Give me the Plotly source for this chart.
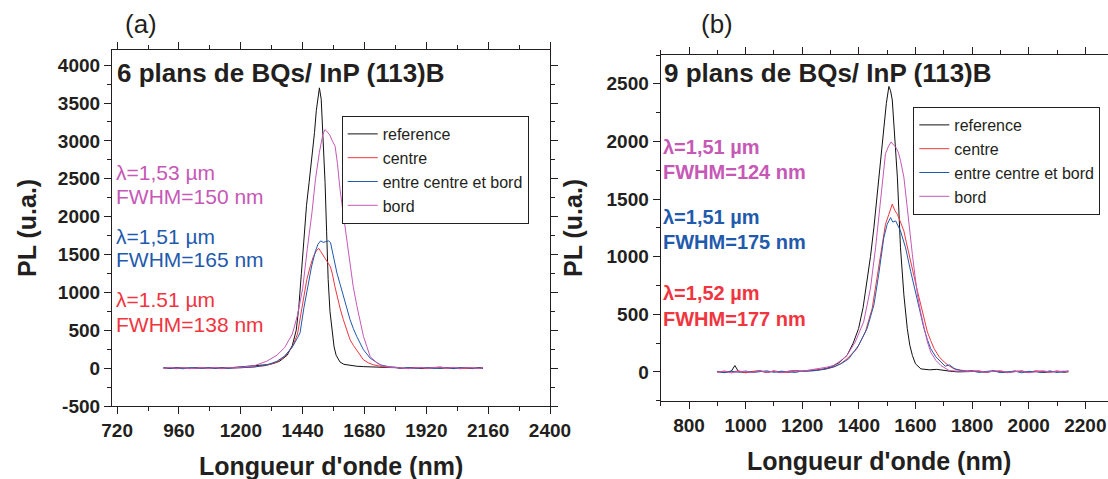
import plotly.graph_objects as go

# ---------------- data ----------------
SERIES_NAMES = ["reference", "centre", "entre centre et bord", "bord"]

# Panel (a): 6 plans de BQs / InP (113)B
a_ref_x = [900, 925, 950, 975, 1000, 1025, 1050, 1075, 1100, 1125, 1150, 1175,
           1200, 1225, 1250, 1275, 1300, 1325, 1350, 1380, 1400, 1415, 1425, 1435, 1444, 1455,
           1465, 1472, 1480, 1486, 1493, 1500, 1505, 1512, 1520, 1527, 1533, 1539, 1546, 1554,
           1562, 1570, 1585, 1600, 1625, 1650, 1675, 1700, 1725, 1750, 1775,
           1800, 1825, 1850, 1875, 1900, 1925, 1950, 1975, 2000, 2025, 2050, 2075, 2100, 2125, 2140]
a_ref_y = [4, -6, 9, 1, -5, 7, -3, 5, -1, 8, 2, 10,
           15, 20, 28, 35, 45, 60, 90, 170, 300, 500, 800, 1250, 1700, 2150,
           2450, 2665, 2900, 3110, 3400, 3620, 3700, 3550, 3000, 2450, 1800, 1170, 750, 470,
           280, 170, 80, 50, 35, 25, 20, 15, 10, 5, 8,
           6, -4, 3, 8, -6, 2, 5, -3, 7, -5, 4, 1, -7, 6, 2]

a_ctr_x = [900, 925, 950, 975, 1000, 1025, 1050, 1075, 1100, 1125, 1150, 1175,
           1200, 1250, 1300, 1340, 1370, 1400, 1420, 1437, 1456, 1470, 1482, 1495, 1503, 1510,
           1520, 1530, 1540, 1547, 1555, 1565, 1573, 1586, 1598, 1611, 1624, 1637, 1650, 1663,
           1676, 1695, 1714, 1750, 1775,
           1800, 1825, 1850, 1875, 1900, 1925, 1950, 1975, 2000, 2025, 2050, 2075, 2100, 2125, 2140]
a_ctr_y = [-3, 6, -8, 4, 0, -6, 9, -2, 5, -7, 3, 1,
           5, 15, 35, 80, 150, 280, 450, 790, 1168, 1350, 1476, 1560, 1580, 1540,
           1480, 1420, 1380, 1344, 1250, 1080, 947, 780, 639, 500, 374, 300, 242, 170,
           110, 70, 44, 20, 10,
           10, 3, -6, 8, 2, -5, 9, 12, -4, 6, -8, 3, 5, -2, 4]

a_mid_x = [900, 925, 950, 975, 1000, 1025, 1050, 1075, 1100, 1125, 1150, 1175,
           1200, 1250, 1300, 1340, 1370, 1400, 1420, 1430, 1445, 1460, 1475, 1490, 1500, 1510,
           1520, 1530, 1540, 1548, 1560, 1573, 1586, 1598, 1610, 1624, 1637, 1650, 1676, 1702,
           1741, 1775,
           1800, 1825, 1850, 1875, 1900, 1925, 1950, 1975, 2000, 2025, 2050, 2075, 2100, 2125, 2140]
a_mid_y = [6, -4, 3, -9, 7, 2, -5, 8, -3, 4, -6, 2,
           5, 15, 40, 90, 160, 280, 400, 467, 800, 1100, 1350, 1550, 1640, 1680,
           1660, 1670, 1680, 1660, 1450, 1256, 1100, 947, 800, 639, 520, 418, 242, 132,
           44, 18,
           12, -3, 7, -6, 4, 9, -5, 2, 8, -7, 5, 10, -4, 3, -6]

a_edge_x = [900, 925, 950, 975, 1000, 1025, 1050, 1075, 1100, 1125, 1150, 1175,
            1200, 1250, 1300, 1340, 1370, 1400, 1420, 1440, 1458, 1476, 1490, 1505, 1518, 1527,
            1535, 1545, 1555, 1566, 1575, 1585, 1598, 1611, 1623, 1636, 1650, 1663, 1676, 1689,
            1702, 1728, 1750, 1775,
            1800, 1825, 1850, 1875, 1900, 1925, 1950, 1975, 2000, 2025, 2050, 2075, 2100, 2125, 2140]
a_edge_y = [-5, 8, 0, 6, -7, 3, 5, -4, 9, -2, 6, 4,
            10, 30, 90, 170, 270, 450, 700, 1050, 1575, 2050, 2500, 2850, 3080, 3150,
            3120, 3080, 3000, 2930, 2700, 2360, 2030, 1697, 1380, 1080, 830, 600, 420, 286,
            153, 70, 30, 15,
            8, 5, -7, 3, 10, -2, 6, 15, 1, 9, -4, 7, 2, -5, 6]

# Panel (b): 9 plans de BQs / InP (113)B
b_ref_x = [900, 925, 950, 962, 975, 1000, 1025, 1050, 1075, 1100, 1125, 1150, 1175, 1200, 1225,
           1250, 1275, 1300, 1330, 1358, 1380, 1399, 1415, 1429, 1441, 1453, 1465, 1476, 1488,
           1497, 1506, 1512, 1518, 1527, 1536, 1547, 1559, 1571, 1580, 1589, 1600, 1619, 1650,
           1675, 1700, 1725, 1750, 1775,
           1800, 1825, 1850, 1875, 1900, 1925, 1950, 1975, 2000, 2025, 2050, 2075, 2100, 2125, 2140]
b_ref_y = [3, -5, 8, 55, 2, -6, 4, 9, -3, 6, -7, 5, 10, 4, 12,
           15, 25, 40, 80, 143, 250, 376, 560, 784, 1000, 1251, 1550, 1835, 2127,
           2330, 2477, 2440, 2360, 2050, 1690, 1077, 668, 376, 230, 143, 70, 26, 18,
           22, 12, 5, 0, 3,
           2, 5, -3, 6, 1, -4, 3, 7, -2, 4, -5, 2, 6, -3, 1]

b_ctr_x = [900, 925, 950, 975, 1000, 1025, 1050, 1075, 1100, 1125, 1150, 1175, 1200, 1225,
           1250, 1280, 1310, 1335, 1358, 1393, 1423, 1447, 1464, 1482, 1494, 1506, 1518, 1527,
           1536, 1547, 1559, 1568, 1577, 1586, 1595, 1607, 1619, 1630, 1642, 1654, 1666, 1684,
           1702, 1720, 1737, 1760, 1780,
           1800, 1825, 1850, 1875, 1900, 1925, 1950, 1975, 2000, 2025, 2050, 2075, 2100, 2125, 2140]
b_ctr_y = [-4, 7, -2, 9, -8, 3, 6, -5, 8, 2, -6, 10, 5, 12,
           15, 25, 41, 70, 113, 201, 347, 551, 815, 1105, 1281, 1368, 1456, 1400,
           1368, 1300, 1223, 1120, 1018, 920, 815, 700, 580, 460, 347, 270, 201, 130,
           84, 50, 26, 15, 8,
           12, 6, -4, 9, 3, -7, 8, 2, -5, 10, 4, -3, 7, 1, 9]

b_mid_x = [900, 925, 950, 975, 1000, 1025, 1050, 1075, 1100, 1125, 1150, 1175, 1200, 1225,
           1250, 1285, 1316, 1340, 1364, 1399, 1429, 1453, 1470, 1488, 1500, 1512, 1520, 1530,
           1547, 1565, 1583, 1595, 1607, 1619, 1630, 1642, 1654, 1672, 1690, 1705, 1720, 1740,
           1760, 1780,
           1800, 1825, 1850, 1875, 1900, 1925, 1950, 1975, 2000, 2025, 2050, 2075, 2100, 2125, 2140]
b_mid_y = [5, -7, 4, -3, 8, -6, 2, 9, -4, 6, 1, -5, 8, 6,
           12, 25, 48, 75, 113, 230, 376, 580, 844, 1163, 1281, 1339, 1300, 1310,
           1223, 1077, 872, 740, 609, 490, 376, 280, 201, 130, 84, 50, 60, 25,
           12, 6,
           8, -5, 4, 10, -6, 2, 7, -8, 5, 1, -4, 9, -6, 3, 6]

b_edge_x = [900, 925, 950, 975, 1000, 1025, 1050, 1075, 1100, 1125, 1150, 1175, 1200, 1225,
            1263, 1285, 1310, 1335, 1358, 1387, 1417, 1441, 1459, 1476, 1494, 1505, 1514, 1522,
            1530, 1540, 1547, 1559, 1571, 1580, 1589, 1598, 1607, 1618, 1630, 1642, 1654, 1672,
            1690, 1719, 1740, 1770,
            1800, 1825, 1850, 1875, 1900, 1925, 1950, 1975, 2000, 2025, 2050, 2075, 2100, 2125, 2140]
b_edge_y = [-2, 6, -9, 5, 3, -5, 10, -3, 7, -6, 4, 9, 6, 15,
            30, 40, 55, 95, 143, 259, 434, 726, 1077, 1484, 1893, 1960, 1996, 1970,
            1952, 1900, 1835, 1690, 1397, 1200, 1018, 840, 668, 520, 376, 260, 171, 100,
            55, 11, 8, 5,
            5, 9, -3, 6, 11, -5, 4, 8, -7, 3, 10, -2, 5, 7, 2]

a_ticks_x = [720, 960, 1200, 1440, 1680, 1920, 2160, 2400]
a_ticks_y = [-500, 0, 500, 1000, 1500, 2000, 2500, 3000, 3500, 4000]
b_ticks_x = [800, 1000, 1200, 1400, 1600, 1800, 2000, 2200]
b_ticks_y = [0, 500, 1000, 1500, 2000, 2500]

a_notes = [("λ=1,53 µm", "FWHM=150 nm"), ("λ=1,51 µm", "FWHM=165 nm"), ("λ=1.51 µm", "FWHM=138 nm")]
b_notes = [("λ=1,51 µm", "FWHM=124 nm"), ("λ=1,51 µm", "FWHM=175 nm"), ("λ=1,52 µm", "FWHM=177 nm")]

# ---------------- styling ----------------
W, H = 1108, 479
INK = "#231f20"
FONT = "Liberation Sans, Arial, sans-serif"
COL = {"reference": "#111111", "centre": "#f0353f", "entre centre et bord": "#1f5aad", "bord": "#c658b6"}
NOTE_COL = ["#c658b6", "#1f5aad", "#f0353f"]


def px(x):
    return x / W


def py(y):
    return 1 - y / H


def bold_labels(vals):
    return ["<b>%d</b>" % v for v in vals]


fig = go.Figure()

panel_a = [(a_ref_x, a_ref_y), (a_ctr_x, a_ctr_y), (a_mid_x, a_mid_y), (a_edge_x, a_edge_y)]
panel_b = [(b_ref_x, b_ref_y), (b_ctr_x, b_ctr_y), (b_mid_x, b_mid_y), (b_edge_x, b_edge_y)]

for name, (xs, ys) in zip(SERIES_NAMES, panel_a):
    fig.add_trace(go.Scatter(x=xs, y=ys, mode="lines", name=name,
                             line=dict(color=COL[name], width=1),
                             xaxis="x", yaxis="y", legend="legend"))
for name, (xs, ys) in zip(SERIES_NAMES, panel_b):
    fig.add_trace(go.Scatter(x=xs, y=ys, mode="lines", name=name,
                             line=dict(color=COL[name], width=1),
                             xaxis="x2", yaxis="y2", legend="legend2"))

axis_common = dict(showline=True, linecolor=INK, linewidth=1.2, ticks="outside", ticklen=7,
                   tickwidth=1.2, tickcolor=INK, showgrid=False, zeroline=False,
                   tickfont=dict(family=FONT, size=19, color=INK, weight="bold"))

legend_common = dict(xanchor="left", yanchor="top", bordercolor=INK, borderwidth=1,
                     bgcolor="white", tracegroupgap=0,
                     font=dict(family=FONT, size=16, color=INK))

fig.update_layout(
    width=W, height=H,
    margin=dict(l=0, r=0, t=0, b=0, autoexpand=False),
    paper_bgcolor="white", plot_bgcolor="white",
    showlegend=True,
    xaxis=dict(axis_common, domain=[px(112), px(550)], range=[700, 2400], anchor="y",
               tickmode="array", tickvals=a_ticks_x, ticktext=bold_labels(a_ticks_x), mirror="ticks",
               minor=dict(dtick=120, tick0=720, ticklen=4, tickcolor=INK, tickwidth=1.2, ticks="outside")),
    yaxis=dict(axis_common, domain=[py(406), py(50)], range=[-500, 4200], anchor="x",
               tickmode="array", tickvals=a_ticks_y, ticktext=bold_labels(a_ticks_y), mirror="ticks",
               minor=dict(dtick=250, tick0=0, ticklen=4, tickcolor=INK, tickwidth=1.2, ticks="outside")),
    xaxis2=dict(axis_common, domain=[px(660.7), 1.0], range=[700, 2280], anchor="y2",
                tickmode="array", tickvals=b_ticks_x, ticktext=bold_labels(b_ticks_x), mirror="ticks",
                minor=dict(dtick=100, tick0=800, ticklen=4, tickcolor=INK, tickwidth=1.2, ticks="outside")),
    yaxis2=dict(axis_common, domain=[py(400.7), py(55)], range=[-250, 2750], anchor="x2",
                tickmode="array", tickvals=b_ticks_y, ticktext=bold_labels(b_ticks_y), mirror=False,
                minor=dict(dtick=250, tick0=0, ticklen=4, tickcolor=INK, tickwidth=1.2, ticks="outside")),
    legend=dict(legend_common, x=px(341.7), y=py(116)),
    legend2=dict(legend_common, x=px(913.3), y=py(107)),
)

ann = []


def text(x, y, s, size, color=INK, bold=False, xanchor="left", angle=0):
    ann.append(dict(x=px(x), y=py(y), xref="paper", yref="paper", text=s, showarrow=False,
                    xanchor=xanchor, yanchor="middle", textangle=angle,
                    font=dict(family=FONT, size=size, color=color, weight="bold" if bold else "normal")))


# panel labels
text(141, 24, "(a)", 26, xanchor="center")
text(717, 24, "(b)", 26, xanchor="center")
# in-plot titles
text(115, 73, "6 plans de BQs/ InP (113)B", 26, bold=True)
text(662, 73, "9 plans de BQs/ InP (113)B", 26, bold=True)
# axis titles
text(331, 466, "Longueur d'onde (nm)", 25, bold=True, xanchor="center")
text(879, 461, "Longueur d'onde (nm)", 25, bold=True, xanchor="center")
text(27, 228, "PL (u.a.)", 25, bold=True, xanchor="center", angle=-90)
text(573, 228, "PL (u.a.)", 25, bold=True, xanchor="center", angle=-90)

# peak annotations
a_rows = [(172, 196), (236, 259), (299, 324)]
for (l1, l2), (y1, y2), c in zip(a_notes, a_rows, NOTE_COL):
    text(114, y1, l1, 21, color=c)
    text(114, y2, l2, 21, color=c)
b_rows = [(147, 172), (217, 242), (293, 319)]
for (l1, l2), (y1, y2), c in zip(b_notes, b_rows, NOTE_COL):
    text(661, y1, l1, 20, color=c, bold=True)
    text(661, y2, l2, 20, color=c, bold=True)

fig.update_layout(annotations=ann)

fig.write_html("out.html", config={"displayModeBar": False},
               post_script="document.body.style.margin='0';document.body.style.overflow='hidden';")
